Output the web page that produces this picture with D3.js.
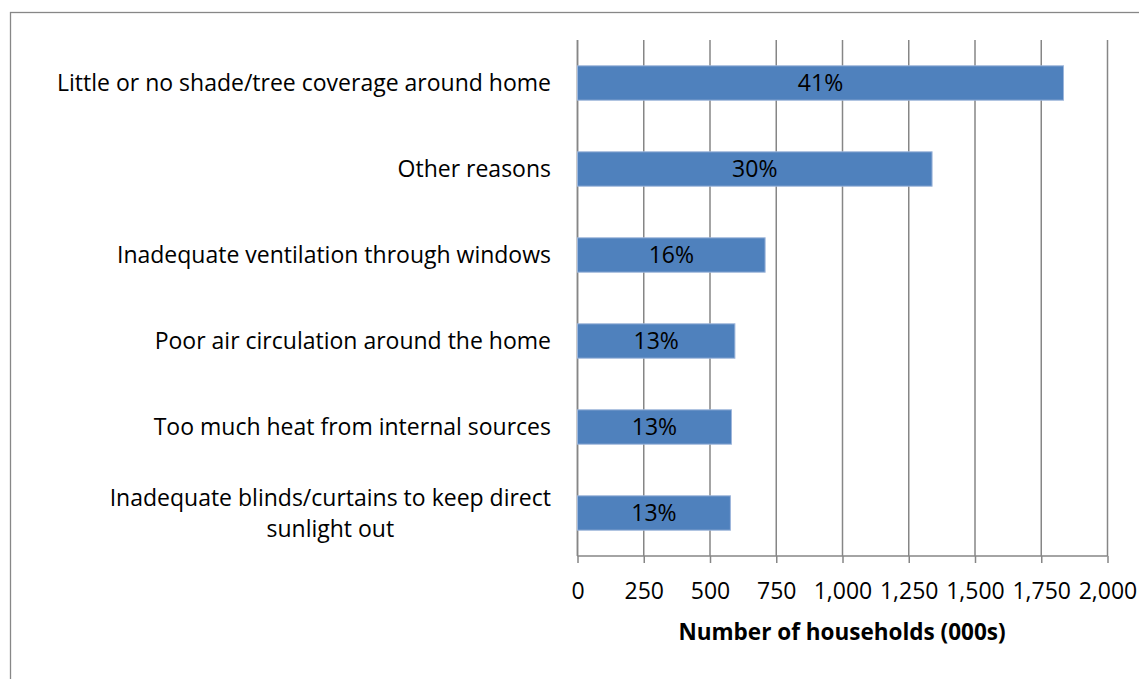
<!DOCTYPE html>
<html><head><meta charset="utf-8">
<script src="https://cdn.jsdelivr.net/npm/d3@7"></script>
<style>body{margin:0;background:#fff}svg{display:block}text{font-family:"Open Sans",sans-serif}</style>
</head><body>
<svg id="c" width="1139" height="679"></svg>
<script>
const categories = [
  "Little or no shade/tree coverage around home",
  "Other reasons",
  "Inadequate ventilation through windows",
  "Poor air circulation around the home",
  "Too much heat from internal sources",
  "Inadequate blinds/curtains to keep direct|sunlight out"
];
const households = [1834, 1338, 708, 594, 581, 577];
const percentLabels = ["41%", "30%", "16%", "13%", "13%", "13%"];
const xTicks = [0, 250, 500, 750, 1000, 1250, 1500, 1750, 2000];
const xTitle = "Number of households (000s)";

const svg = d3.select("#c");
svg.append("rect").attr("x",10.5).attr("y",12.5).attr("width",1200).attr("height",800)
  .attr("fill","none").attr("stroke","#878787").attr("stroke-width",1.3);

const x = d3.scaleLinear().domain([0,2000]).range([577.5,1107.5]);
const y = d3.scaleBand().domain(categories).range([40,556]).paddingInner(0.6).paddingOuter(0.3);

const g = svg.append("g");
g.selectAll("line.grid").data(xTicks).join("line").attr("class","grid")
  .attr("x1",d=>x(d)).attr("x2",d=>x(d)).attr("y1",40).attr("y2",556)
  .attr("stroke","#868686").attr("stroke-width",1.5);

const xAxis = d3.axisBottom(x).tickValues(xTicks).tickSize(7).tickPadding(20)
  .tickFormat(d3.format(","));
const ax = g.append("g").attr("transform","translate(0,556)").call(xAxis);
ax.select(".domain").attr("stroke","#868686").attr("stroke-width",1.5).attr("d","M577.5,0H1107.5");
ax.selectAll(".tick line").attr("stroke","#868686").attr("stroke-width",1.5);
ax.selectAll(".tick text").attr("font-size",23).attr("fill","#000").attr("font-family","'Open Sans',sans-serif");

g.append("line").attr("x1",577.5).attr("x2",577.5).attr("y1",40).attr("y2",556)
  .attr("stroke","#868686").attr("stroke-width",1.5);

g.selectAll("rect.bar").data(categories).join("rect").attr("class","bar")
  .attr("x",x(0)).attr("y",d=>y(d)).attr("height",y.bandwidth())
  .attr("width",(d,i)=>x(households[i])-x(0))
  .attr("fill","#4f81bd").attr("stroke","#9db6db").attr("stroke-width",1);

g.selectAll("text.val").data(categories).join("text").attr("class","val")
  .attr("x",(d,i)=>(x(0)+x(households[i]))/2).attr("y",d=>y(d)+y.bandwidth()/2)
  .attr("dy","0.35em").attr("text-anchor","middle").attr("font-size",23).attr("fill","#000")
  .text((d,i)=>percentLabels[i]);

categories.forEach(c=>{
  const lines = c.split("|");
  const cy = y(c)+y.bandwidth()/2;
  const lh = 31;
  const t = g.append("text").attr("font-size",23).attr("fill","#000").attr("text-anchor","middle");
  const spans = lines.map((l,i)=>t.append("tspan").text(l));
  const widths = spans.map(s=>s.node().getComputedTextLength());
  const maxW = Math.max(...widths);
  const center = 551 - maxW/2;
  spans.forEach((s,i)=>s.attr("x",center).attr("y",cy + (i-(lines.length-1)/2)*lh).attr("dy","0.35em"));
});

g.append("text").attr("x",842).attr("y",632).attr("dy","0.35em").attr("text-anchor","middle")
  .attr("font-size",22.5).attr("font-weight","bold").attr("fill","#000").text(xTitle);
</script>
</body></html>
